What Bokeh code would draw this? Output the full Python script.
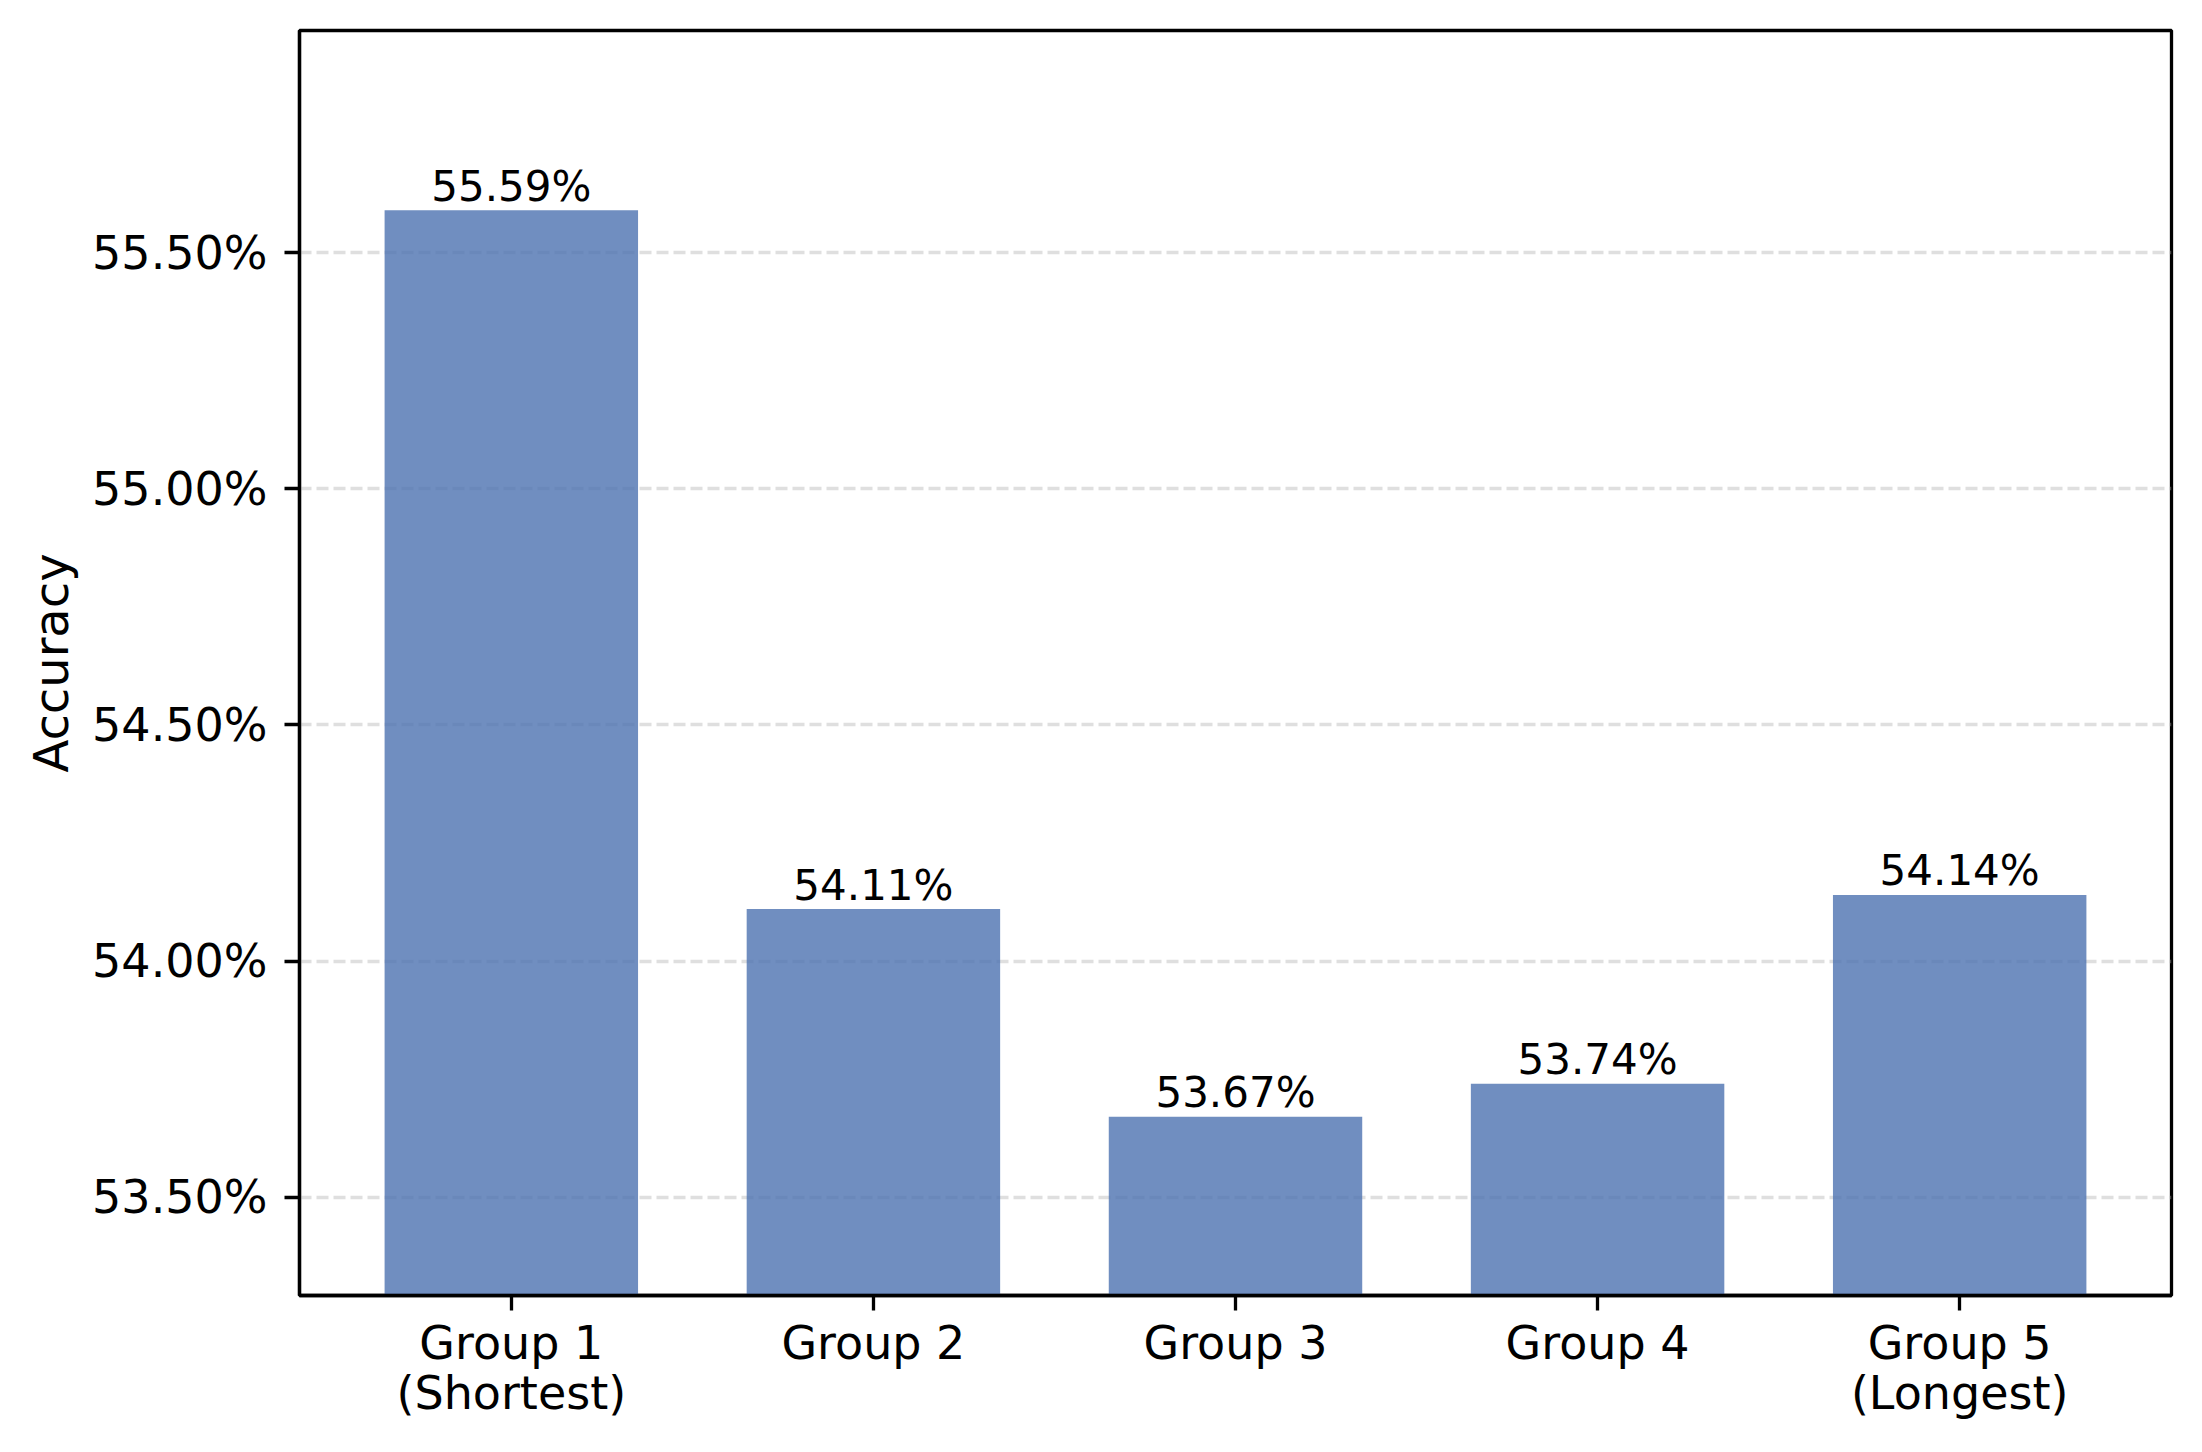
from bokeh.plotting import figure
from bokeh.models import Range1d, FixedTicker, PrintfTickFormatter, ColumnDataSource
from bokeh.core.properties import value
from bokeh.embed import file_html
from bokeh.resources import INLINE

# ---- data ----
groups = ["Group 1\n(Shortest)", "Group 2", "Group 3", "Group 4", "Group 5\n(Longest)"]
accuracy = [55.59, 54.11, 53.67, 53.74, 54.14]
y_ticks = [53.5, 54.0, 54.5, 55.0, 55.5]

xs = list(range(len(groups)))
labels = [f"{v:.2f}%" for v in accuracy]
src = ColumnDataSource(dict(x=xs, top=accuracy, label=labels))

FONT = "DejaVu Sans"

p = figure(
    frame_width=1872, frame_height=1265,
    min_border_left=299, min_border_right=15, min_border_top=30, min_border_bottom=141,
    x_range=Range1d(-0.585, 4.585),
    y_range=Range1d(53.2915, 55.971),
    output_backend="svg", toolbar_location=None,
)
p.background_fill_color = "white"
p.border_fill_color = "white"
p.outline_line_color = "black"
p.outline_line_width = 3.3

p.vbar(x="x", top="top", bottom=53.0, width=0.7, source=src,
       fill_color="#4c72b0", fill_alpha=0.8, line_color=None)

p.text(x="x", y="top", text="label", source=src,
       text_align="center", text_baseline="alphabetic", y_offset=-24,
       text_font=value(FONT), text_font_size="42px", text_color="black")

# grid
p.xgrid.visible = False
p.ygrid.ticker = FixedTicker(ticks=y_ticks)
p.ygrid.grid_line_color = "#b0b0b0"
p.ygrid.grid_line_alpha = 0.4
p.ygrid.grid_line_width = 3.3
p.ygrid.grid_line_dash = "12 5"

# x axis
p.xaxis.ticker = FixedTicker(ticks=xs)
p.xaxis.major_label_overrides = {i: g for i, g in zip(xs, groups)}
p.xaxis.major_label_text_font = FONT
p.xaxis.major_label_text_font_size = "46px"
p.xaxis.major_label_text_color = "black"
p.xaxis.major_label_text_line_height = 0.93
p.xaxis.major_label_standoff = 5
p.xaxis.minor_tick_line_color = None

# y axis
p.yaxis.ticker = FixedTicker(ticks=y_ticks)
p.yaxis.formatter = PrintfTickFormatter(format="%.2f%%")
p.yaxis.major_label_text_font = FONT
p.yaxis.major_label_text_font_size = "46px"
p.yaxis.major_label_text_color = "black"
p.yaxis.major_label_standoff = 17
p.yaxis.minor_tick_line_color = None
p.yaxis.axis_label = "Accuracy"
p.yaxis.axis_label_text_font = FONT
p.yaxis.axis_label_text_font_size = "48px"
p.yaxis.axis_label_text_font_style = "normal"
p.yaxis.axis_label_text_color = "black"
p.yaxis.axis_label_standoff = 10

for ax in (p.xaxis, p.yaxis):
    ax.axis_line_color = "black"
    ax.axis_line_width = 3.3
    ax.major_tick_line_color = "black"
    ax.major_tick_line_width = 3.3
    ax.major_tick_out = 15
    ax.major_tick_in = 0

open("out.html", "w").write(file_html(p, INLINE))
